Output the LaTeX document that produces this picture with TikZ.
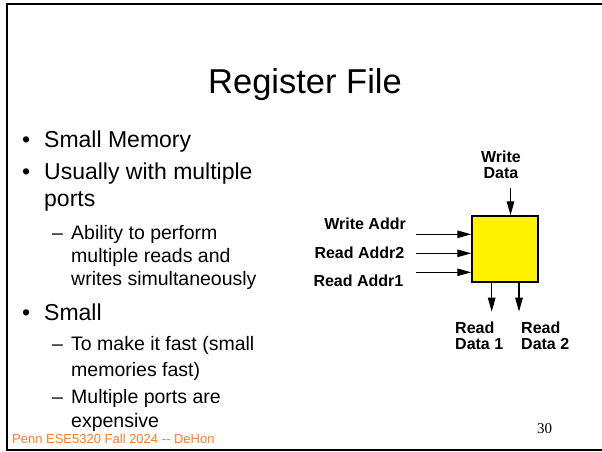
\documentclass[tikz,border=0pt]{standalone}
\usepackage{fontspec}
\setmainfont{Liberation Sans}
\newfontfamily\serifnum{Liberation Serif}
\usetikzlibrary{arrows.meta}
\definecolor{footorange}{RGB}{255,122,40}

\begin{document}
\begin{tikzpicture}[x=1pt, y=-1pt,
  line/.style={anchor=base west, inner sep=0pt, font=\fontsize{23}{27}\selectfont},
  subline/.style={anchor=base west, inner sep=0pt, font=\fontsize{19.5}{23}\selectfont},
  port/.style={inner sep=0pt, font=\fontsize{16}{16}\selectfont\bfseries},
  sig/.style={-{Triangle[length=14pt,width=7.5pt]}, line width=1.3pt}]

\useasboundingbox (0,0) rectangle (602,452);

%the frame
\draw [line width=2pt] (602,4.5) -- (7,4.5) -- (7,450) -- (602,450);

%the title
\node [anchor=base, inner sep=0pt, font=\fontsize{34.5}{34.5}\selectfont] (title) at (305,93) {Register File};

%the bullets
\node [line] (dot1) at (22,147) {•};
\node [line] (b1) at (44,147) {Small Memory};
\node [line] (dot2) at (22,179) {•};
\node [line] (b2) at (44,179) {Usually with multiple};
\node [line] (b2b) at (44,206) {ports};
\node [subline] (dash1) at (52,239) {–};
\node [subline] (s1) at (71,239) {Ability to perform};
\node [subline] (s1b) at (71,262) {multiple reads and};
\node [subline] (s1c) at (71,285) {writes simultaneously};
\node [line] (dot3) at (22,320) {•};
\node [line] (b3) at (44,320) {Small};
\node [subline] (dash2) at (52,350) {–};
\node [subline] (s2) at (71,350) {To make it fast (small};
\node [subline] (s2b) at (71,376) {memories fast)};
\node [subline] (dash3) at (52,403) {–};
\node [subline] (s3) at (71,403) {Multiple ports are};
\node [subline] (s3b) at (71,427) {expensive};

%the register file
\node [draw, line width=1.5pt, fill=yellow, minimum size=66pt, inner sep=0pt] (rf) at (505,249) {};

%the inputs
\coordinate (wa) at (416,234.3);
\coordinate (ra2) at (416,253.3);
\coordinate (ra1) at (416,272.3);
\draw [sig] (wa) -- (wa -| rf.west);
\draw [sig] (ra2) -- (ra2 -| rf.west);
\draw [sig] (ra1) -- (ra1 -| rf.west);
\node [port, anchor=base east] (walab) at (406,229) {Write Addr};
\node [port, anchor=base east] (ra2lab) at (404.5,258) {Read Addr2};
\node [port, anchor=base east] (ra1lab) at (403.5,286) {Read Addr1};

\node [port, align=center, anchor=base] (wdlab) at (501,178) {Write\\Data};
\coordinate (wd) at (510.5,188);
\draw [sig] (wd) -- (wd |- rf.north);

%the outputs
\coordinate (rd1) at (491.7,311.7);
\coordinate (rd2) at (519,311.7);
\draw [sig] (rd1 |- rf.south) -- (rd1);
\draw [sig] (rd2 |- rf.south) -- (rd2);
\node [port, align=left, anchor=base west] (rd1lab) at (455,349) {Read\\Data 1};
\node [port, align=left, anchor=base west] (rd2lab) at (521,349) {Read\\Data 2};

%the footer
\node [anchor=base west, inner sep=0pt, text=footorange, font=\fontsize{13}{13}\selectfont] (foot) at (12,443) {Penn ESE5320 Fall 2024 -{}- DeHon};
\node [anchor=base west, inner sep=0pt, font=\serifnum\fontsize{15}{15}\selectfont] (pgno) at (537,433) {30};
\end{tikzpicture}
\end{document}
